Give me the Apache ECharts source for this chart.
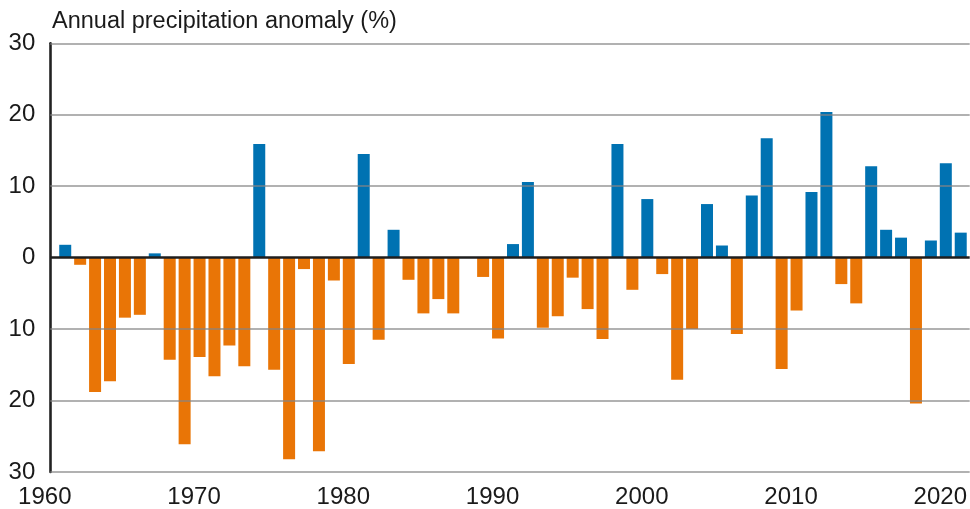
<!DOCTYPE html>
<html>
<head>
<meta charset="utf-8">
<script src="https://cdn.jsdelivr.net/npm/echarts@6/dist/echarts.min.js"></script>
<style>
html,body{margin:0;padding:0;background:#fff;}
#c{width:970px;height:509px;}
</style>
</head>
<body>
<div id="c"></div>
<script>
const titleText = 'Annual precipitation anomaly (%)';
const years = [1961,1962,1963,1964,1965,1966,1967,1968,1969,1970,
  1971,1972,1973,1974,1975,1976,1977,1978,1979,1980,
  1981,1982,1983,1984,1985,1986,1987,1988,1989,1990,
  1991,1992,1993,1994,1995,1996,1997,1998,1999,2000,
  2001,2002,2003,2004,2005,2006,2007,2008,2009,2010,
  2011,2012,2013,2014,2015,2016,2017,2018,2019,2020,2021];
const anomalies = [1.8,-1.0,-18.8,-17.3,-8.4,-8.0,0.6,-14.3,-26.1,-13.9,
  -16.6,-12.3,-15.2,15.9,-15.7,-28.2,-1.6,-27.1,-3.2,-14.9,
  14.5,-11.5,3.9,-3.1,-7.8,-5.8,-7.8,0,-2.7,-11.3,
  1.9,10.6,-9.8,-8.2,-2.8,-7.2,-11.4,15.9,-4.5,8.2,
  -2.3,-17.1,-10.0,7.5,1.7,-10.7,8.7,16.7,-15.6,-7.4,
  9.2,20.4,-3.7,-6.4,12.8,3.9,2.8,-20.4,2.4,13.2,3.5];
const yTicks = [-30,-20,-10,0,10,20,30];
const xTicks = [1960,1970,1980,1990,2000,2010,2020];

const wetColor = '#0072b2';
const dryColor = '#e97506';
const FONT = '"Liberation Sans", Arial, sans-serif';

const chart = echarts.init(document.getElementById('c'), null, {renderer:'canvas'});
chart.setOption({
  animation:false,
  backgroundColor:'#fff',
  grid:{left:50.3, right:0, top:43.3, bottom:33, containLabel:false},
  graphic:[{
    type:'text', left:52, top:10,
    style:{text:titleText, font:'23.5px '+FONT, fill:'#1a1a1a'}
  }],
  xAxis:{
    type:'value', min:1960, max:2021.6, interval:10,
    axisLine:{show:false}, axisTick:{show:false}, splitLine:{show:false},
    axisLabel:{
      color:'#1a1a1a', fontSize:24, fontFamily:FONT, margin:13,
      padding:[0,11,0,0], showMaxLabel:false,
      formatter:v => xTicks.includes(v) ? String(v) : ''
    }
  },
  yAxis:{
    type:'value', min:-30, max:30, interval:10,
    axisLine:{show:true, lineStyle:{color:'#222', width:2.6}},
    axisTick:{show:false}, splitLine:{show:false},
    axisLabel:{color:'#1a1a1a', fontSize:24, fontFamily:FONT, margin:15,
      padding:[0,0,5,0],
      formatter:v => String(Math.abs(v))}
  },
  series:[{
    type:'bar',
    barWidth:12,
    data: years.map((y,i)=>[y, anomalies[i]]),
    itemStyle:{color: p => p.value[1] >= 0 ? wetColor : dryColor},
    markLine:{
      silent:true, symbol:'none', label:{show:false}, z:10,
      data: yTicks.map(v => ({
        yAxis:v,
        lineStyle: v === 0 ? {color:'#1e1e1e', width:2.6, type:'solid', opacity:1}
                            : {color:'#858585', width:1.6, type:'solid', opacity:0.85}
      }))
    }
  }]
});
</script>
</body>
</html>
